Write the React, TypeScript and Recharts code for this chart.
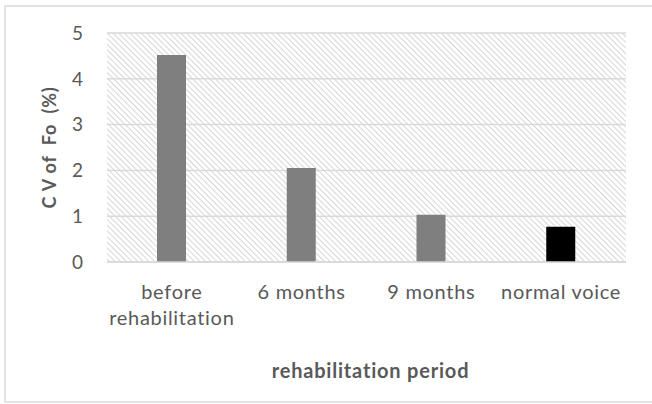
import React from 'react';
import { BarChart, Bar, XAxis, YAxis, CartesianGrid, Cell, Label } from 'recharts';

const categories = ['before\nrehabilitation', '6 months', '9 months', 'normal voice'];
const values = [4.52, 2.05, 1.03, 0.77];
const barColors = ['#7f7f7f', '#7f7f7f', '#7f7f7f', '#000000'];
const yTicks = [0, 1, 2, 3, 4, 5];
const xTitle = 'rehabilitation period';
const yTitle = 'C V of  Fo  (%)';

const data = categories.map((c, i) => ({ name: c, value: values[i] }));

const FONT = 'Lato, "Open Sans", sans-serif';
const TEXT = '#595959';

const XTick = (props: any) => {
  const { x, y, payload } = props;
  const lines = String(payload.value).split('\n');
  return (
    <text x={x} y={y} textAnchor="middle" fill={TEXT} fontSize={20} letterSpacing={0.7} fontFamily={FONT}>
      {lines.map((l: string, i: number) => (
        <tspan key={i} x={x} dy={i === 0 ? 37 : 26}>{l}</tspan>
      ))}
    </text>
  );
};

const YTitle = (props: any) => {
  const vb = props.viewBox;
  const cx = 49;
  const cy = vb.y + vb.height / 2;
  return (
    <text x={cx} y={cy} transform={`rotate(-90, ${cx}, ${cy})`} textAnchor="middle" dominantBaseline="central"
      fill={TEXT} fontSize={18} letterSpacing={0.8} fontWeight="bold" fontFamily={FONT} xmlSpace="preserve" style={{ whiteSpace: 'pre' }}>
      {yTitle}
    </text>
  );
};

const XTitle = (props: any) => {
  const vb = props.viewBox;
  const cx = vb.x + vb.width / 2 + 4;
  return (
    <text x={cx} y={378} textAnchor="middle" fill={TEXT} fontSize={20} letterSpacing={0.8} fontWeight="bold" fontFamily={FONT}>
      {xTitle}
    </text>
  );
};

export default function App() {
  return (
    <div style={{ position: 'absolute', left: 0, top: 0, width: 652, height: 404, background: '#fff', overflow: 'hidden' }}>
      <svg width={0} height={0} style={{ position: 'absolute' }}>
        <defs>
          <pattern id="hatch" patternUnits="userSpaceOnUse" width={4} height={4} patternTransform="rotate(-45)">
            <line x1={0} y1={0} x2={0} y2={4} stroke="#cfcfcf" strokeWidth={1.7} />
          </pattern>
        </defs>
      </svg>
      <div style={{ position: 'absolute', left: 4, top: 5, width: 660, height: 394, borderLeft: '2px solid #e3e3e3', borderTop: '2px solid #e3e3e3', borderBottom: '2px solid #e3e3e3' }} />
      <div style={{ position: 'absolute', left: 0, top: 0 }}>
        <BarChart width={652} height={404} data={data} margin={{ top: 33, right: 26, bottom: 0, left: 47 }} barSize={29}>
          <CartesianGrid vertical={false} stroke="#d9d9d9" strokeWidth={1.5} fill="url(#hatch)" fillOpacity={1} />
          <XAxis dataKey="name" height={142} tickSize={0} tickMargin={0} axisLine={{ stroke: '#d9d9d9', strokeWidth: 1.5 }} tickLine={false} tick={<XTick />} interval={0}>
            <Label content={<XTitle />} />
          </XAxis>
          <YAxis width={60} domain={[0, 5]} ticks={yTicks} tickSize={0} tickMargin={24} axisLine={false} tickLine={false}
            tick={{ fill: TEXT, fontSize: 19, fontFamily: FONT }}>
            <Label content={<YTitle />} />
          </YAxis>
          <Bar dataKey="value" isAnimationActive={false}>
            {data.map((d, i) => <Cell key={i} fill={barColors[i]} />)}
          </Bar>
        </BarChart>
      </div>
    </div>
  );
}
